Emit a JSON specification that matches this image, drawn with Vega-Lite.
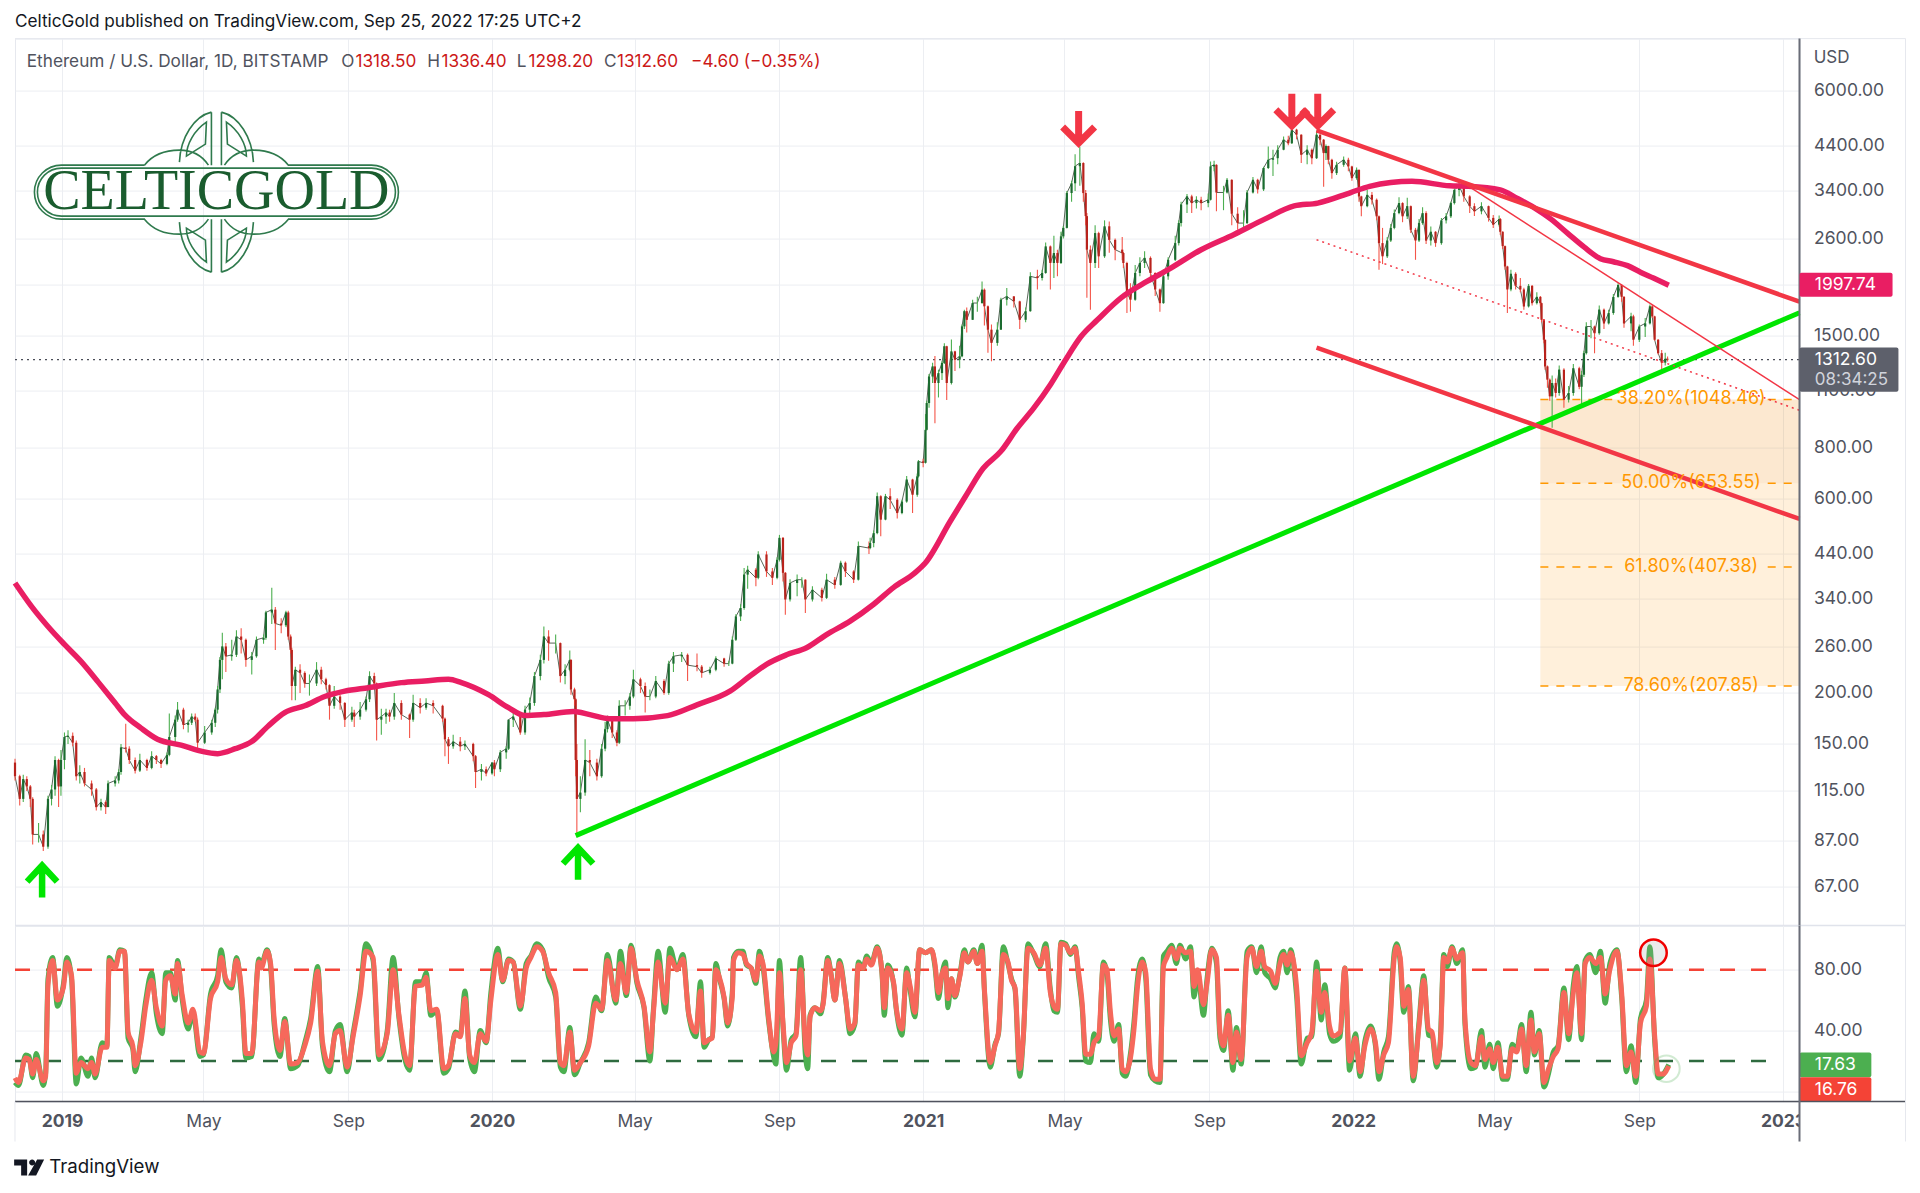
{"$schema":"https://vega.github.io/schema/vega-lite/v6.json","padding":{"left":3,"top":12.6,"right":0,"bottom":0},"background":"white","bounds":"flush","spacing":0,"config":{"view":{"stroke":"#e6e8ee"},"text":{"font":"Inter"}},
"datasets":{
"candles":[
{"d":"2018-11-22","o":135,"h":138,"l":122,"c":125},{"d":"2018-11-26","o":125,"h":126,"l":106,"c":110},{"d":"2018-11-29","o":110,"h":126,"l":108,"c":123},{"d":"2018-12-02","o":123,"h":125,"l":115,"c":118},{"d":"2018-12-05","o":118,"h":119,"l":105,"c":110},{"d":"2018-12-07","o":110,"h":111,"l":85,"c":90},{"d":"2018-12-12","o":90,"h":96,"l":86,"c":90},{"d":"2018-12-16","o":90,"h":92,"l":82,"c":84},{"d":"2018-12-20","o":84,"h":112,"l":83,"c":110},{"d":"2018-12-23","o":110,"h":119,"l":106,"c":116},{"d":"2018-12-26","o":116,"h":140,"l":112,"c":137},{"d":"2018-12-29","o":137,"h":138,"l":105,"c":118},{"d":"2018-12-31","o":118,"h":145,"l":112,"c":137},
{"d":"2019-01-03","o":137,"h":160,"l":130,"c":156},{"d":"2019-01-06","o":156,"h":162,"l":150,"c":157},{"d":"2019-01-10","o":157,"h":160,"l":148,"c":151},{"d":"2019-01-13","o":151,"h":153,"l":122,"c":125},{"d":"2019-01-16","o":125,"h":133,"l":120,"c":128},{"d":"2019-01-20","o":128,"h":131,"l":118,"c":120},{"d":"2019-01-26","o":120,"h":122,"l":112,"c":116},{"d":"2019-01-30","o":116,"h":117,"l":103,"c":105},{"d":"2019-02-03","o":105,"h":110,"l":103,"c":108},{"d":"2019-02-07","o":108,"h":109,"l":101,"c":105},{"d":"2019-02-09","o":105,"h":122,"l":105,"c":120},{"d":"2019-02-15","o":120,"h":125,"l":118,"c":122},{"d":"2019-02-18","o":122,"h":130,"l":120,"c":128},{"d":"2019-02-20","o":128,"h":150,"l":126,"c":147},{"d":"2019-02-24","o":147,"h":168,"l":143,"c":146},{"d":"2019-02-27","o":146,"h":148,"l":134,"c":137},{"d":"2019-03-04","o":137,"h":139,"l":127,"c":129},{"d":"2019-03-08","o":129,"h":142,"l":128,"c":137},{"d":"2019-03-14","o":137,"h":138,"l":129,"c":131},{"d":"2019-03-18","o":131,"h":144,"l":130,"c":140},{"d":"2019-03-22","o":140,"h":141,"l":134,"c":137},{"d":"2019-03-26","o":137,"h":138,"l":131,"c":134},{"d":"2019-03-31","o":134,"h":143,"l":133,"c":141},{"d":"2019-04-02","o":141,"h":178,"l":140,"c":156},{"d":"2019-04-07","o":156,"h":176,"l":150,"c":172},{"d":"2019-04-09","o":172,"h":190,"l":170,"c":182},{"d":"2019-04-14","o":182,"h":184,"l":163,"c":167},{"d":"2019-04-18","o":167,"h":172,"l":160,"c":169},{"d":"2019-04-21","o":169,"h":178,"l":167,"c":175},{"d":"2019-04-24","o":175,"h":178,"l":170,"c":172},{"d":"2019-04-26","o":172,"h":174,"l":146,"c":151},{"d":"2019-05-02","o":151,"h":166,"l":150,"c":160},{"d":"2019-05-08","o":160,"h":172,"l":158,"c":169},{"d":"2019-05-11","o":169,"h":184,"l":165,"c":182},{"d":"2019-05-13","o":182,"h":208,"l":178,"c":204},{"d":"2019-05-15","o":204,"h":245,"l":200,"c":241},{"d":"2019-05-17","o":241,"h":281,"l":216,"c":260},{"d":"2019-05-20","o":260,"h":265,"l":225,"c":246},{"d":"2019-05-25","o":246,"h":270,"l":240,"c":248},{"d":"2019-05-29","o":248,"h":285,"l":245,"c":275},{"d":"2019-06-02","o":275,"h":288,"l":250,"c":270},{"d":"2019-06-06","o":270,"h":272,"l":232,"c":241},{"d":"2019-06-11","o":241,"h":252,"l":222,"c":246},{"d":"2019-06-15","o":246,"h":275,"l":244,"c":270},{"d":"2019-06-21","o":270,"h":278,"l":264,"c":273},{"d":"2019-06-23","o":273,"h":318,"l":270,"c":315},{"d":"2019-06-28","o":315,"h":362,"l":295,"c":320},{"d":"2019-07-01","o":320,"h":325,"l":255,"c":296},{"d":"2019-07-06","o":296,"h":305,"l":280,"c":293},{"d":"2019-07-10","o":293,"h":318,"l":290,"c":315},{"d":"2019-07-12","o":315,"h":318,"l":270,"c":275},{"d":"2019-07-14","o":275,"h":278,"l":250,"c":255},{"d":"2019-07-15","o":255,"h":258,"l":192,"c":208},{"d":"2019-07-18","o":208,"h":232,"l":192,"c":228},{"d":"2019-07-22","o":228,"h":235,"l":200,"c":224},{"d":"2019-07-26","o":224,"h":226,"l":206,"c":211},{"d":"2019-07-30","o":211,"h":222,"l":197,"c":211},{"d":"2019-08-05","o":211,"h":238,"l":208,"c":228},{"d":"2019-08-09","o":228,"h":232,"l":210,"c":216},{"d":"2019-08-13","o":216,"h":218,"l":204,"c":209},{"d":"2019-08-16","o":209,"h":210,"l":172,"c":186},{"d":"2019-08-20","o":186,"h":208,"l":183,"c":196},{"d":"2019-08-25","o":196,"h":198,"l":182,"c":189},{"d":"2019-08-29","o":189,"h":190,"l":165,"c":172},{"d":"2019-09-04","o":172,"h":185,"l":170,"c":179},{"d":"2019-09-06","o":179,"h":182,"l":165,"c":175},{"d":"2019-09-11","o":175,"h":190,"l":172,"c":182},{"d":"2019-09-16","o":182,"h":196,"l":180,"c":193},{"d":"2019-09-19","o":193,"h":226,"l":190,"c":220},{"d":"2019-09-23","o":220,"h":224,"l":205,"c":211},{"d":"2019-09-25","o":211,"h":212,"l":153,"c":172},{"d":"2019-09-29","o":172,"h":183,"l":158,"c":175},{"d":"2019-10-03","o":175,"h":183,"l":168,"c":179},{"d":"2019-10-06","o":179,"h":182,"l":170,"c":175},{"d":"2019-10-10","o":175,"h":200,"l":172,"c":189},{"d":"2019-10-16","o":189,"h":192,"l":172,"c":177},{"d":"2019-10-23","o":177,"h":178,"l":155,"c":172},{"d":"2019-10-26","o":172,"h":198,"l":170,"c":189},{"d":"2019-11-01","o":189,"h":194,"l":178,"c":184},{"d":"2019-11-06","o":184,"h":194,"l":182,"c":189},{"d":"2019-11-12","o":189,"h":192,"l":178,"c":186},{"d":"2019-11-20","o":186,"h":187,"l":170,"c":173},{"d":"2019-11-22","o":173,"h":174,"l":140,"c":154},{"d":"2019-11-25","o":154,"h":156,"l":134,"c":148},{"d":"2019-11-29","o":148,"h":158,"l":146,"c":152},{"d":"2019-12-05","o":152,"h":156,"l":144,"c":148},{"d":"2019-12-09","o":148,"h":153,"l":145,"c":150},{"d":"2019-12-16","o":150,"h":151,"l":136,"c":140},{"d":"2019-12-18","o":140,"h":141,"l":117,"c":128},{"d":"2019-12-23","o":128,"h":134,"l":122,"c":130},{"d":"2019-12-27","o":130,"h":132,"l":125,"c":127},
{"d":"2020-01-01","o":127,"h":135,"l":126,"c":135},{"d":"2020-01-03","o":135,"h":137,"l":125,"c":130},{"d":"2020-01-08","o":130,"h":145,"l":128,"c":143},{"d":"2020-01-13","o":143,"h":148,"l":138,"c":146},{"d":"2020-01-15","o":146,"h":172,"l":145,"c":172},{"d":"2020-01-19","o":172,"h":180,"l":165,"c":175},{"d":"2020-01-25","o":175,"h":176,"l":158,"c":160},{"d":"2020-01-29","o":160,"h":186,"l":158,"c":182},{"d":"2020-02-02","o":182,"h":195,"l":178,"c":189},{"d":"2020-02-06","o":189,"h":225,"l":186,"c":220},{"d":"2020-02-11","o":220,"h":248,"l":215,"c":241},{"d":"2020-02-14","o":241,"h":291,"l":236,"c":275},{"d":"2020-02-18","o":275,"h":285,"l":240,"c":265},{"d":"2020-02-24","o":265,"h":278,"l":250,"c":265},{"d":"2020-02-28","o":265,"h":266,"l":212,"c":220},{"d":"2020-03-03","o":220,"h":235,"l":210,"c":228},{"d":"2020-03-07","o":228,"h":254,"l":226,"c":241},{"d":"2020-03-08","o":241,"h":242,"l":198,"c":204},{"d":"2020-03-11","o":204,"h":206,"l":186,"c":193},{"d":"2020-03-12","o":193,"h":194,"l":125,"c":137},{"d":"2020-03-13","o":137,"h":150,"l":90,"c":110},{"d":"2020-03-16","o":110,"h":125,"l":102,"c":114},{"d":"2020-03-20","o":114,"h":154,"l":112,"c":137},{"d":"2020-03-24","o":137,"h":145,"l":125,"c":135},{"d":"2020-03-30","o":135,"h":138,"l":122,"c":125},{"d":"2020-04-03","o":125,"h":150,"l":124,"c":146},{"d":"2020-04-06","o":146,"h":170,"l":144,"c":163},{"d":"2020-04-08","o":163,"h":176,"l":160,"c":172},{"d":"2020-04-12","o":172,"h":175,"l":155,"c":160},{"d":"2020-04-16","o":160,"h":162,"l":148,"c":151},{"d":"2020-04-18","o":151,"h":192,"l":150,"c":186},{"d":"2020-04-23","o":186,"h":192,"l":176,"c":186},{"d":"2020-04-27","o":186,"h":200,"l":182,"c":196},{"d":"2020-04-30","o":196,"h":228,"l":194,"c":216},{"d":"2020-05-06","o":216,"h":218,"l":200,"c":208},{"d":"2020-05-10","o":208,"h":212,"l":179,"c":196},{"d":"2020-05-14","o":196,"h":204,"l":192,"c":196},{"d":"2020-05-19","o":196,"h":220,"l":194,"c":214},{"d":"2020-05-26","o":214,"h":216,"l":198,"c":200},{"d":"2020-05-30","o":200,"h":240,"l":198,"c":236},{"d":"2020-06-03","o":236,"h":252,"l":225,"c":246},{"d":"2020-06-10","o":246,"h":252,"l":238,"c":248},{"d":"2020-06-15","o":248,"h":250,"l":214,"c":234},{"d":"2020-06-23","o":234,"h":250,"l":226,"c":232},{"d":"2020-06-27","o":232,"h":234,"l":218,"c":224},{"d":"2020-07-04","o":224,"h":232,"l":222,"c":228},{"d":"2020-07-09","o":228,"h":246,"l":226,"c":243},{"d":"2020-07-16","o":243,"h":244,"l":232,"c":236},{"d":"2020-07-20","o":236,"h":240,"l":233,"c":236},{"d":"2020-07-23","o":236,"h":275,"l":235,"c":270},{"d":"2020-07-26","o":270,"h":312,"l":268,"c":308},{"d":"2020-07-30","o":308,"h":330,"l":300,"c":323},{"d":"2020-08-02","o":323,"h":405,"l":320,"c":390},{"d":"2020-08-05","o":390,"h":410,"l":360,"c":401},{"d":"2020-08-12","o":401,"h":405,"l":365,"c":383},{"d":"2020-08-14","o":383,"h":445,"l":380,"c":437},{"d":"2020-08-21","o":437,"h":445,"l":385,"c":397},{"d":"2020-08-26","o":397,"h":405,"l":368,"c":383},{"d":"2020-08-30","o":383,"h":430,"l":380,"c":424},{"d":"2020-09-01","o":424,"h":488,"l":420,"c":480},{"d":"2020-09-04","o":480,"h":482,"l":375,"c":394},{"d":"2020-09-06","o":394,"h":396,"l":311,"c":339},{"d":"2020-09-10","o":339,"h":380,"l":335,"c":372},{"d":"2020-09-16","o":372,"h":390,"l":345,"c":379},{"d":"2020-09-20","o":379,"h":384,"l":362,"c":379},{"d":"2020-09-23","o":379,"h":380,"l":314,"c":339},{"d":"2020-09-29","o":339,"h":365,"l":335,"c":358},{"d":"2020-10-07","o":358,"h":362,"l":335,"c":342},{"d":"2020-10-11","o":342,"h":392,"l":340,"c":379},{"d":"2020-10-18","o":379,"h":385,"l":360,"c":368},{"d":"2020-10-23","o":368,"h":422,"l":366,"c":417},{"d":"2020-10-27","o":417,"h":420,"l":385,"c":397},{"d":"2020-11-03","o":397,"h":400,"l":372,"c":379},{"d":"2020-11-07","o":379,"h":470,"l":377,"c":458},{"d":"2020-11-16","o":458,"h":470,"l":438,"c":453},{"d":"2020-11-17","o":453,"h":480,"l":450,"c":466},{"d":"2020-11-20","o":466,"h":500,"l":455,"c":493},{"d":"2020-11-23","o":493,"h":620,"l":490,"c":607},{"d":"2020-11-26","o":607,"h":610,"l":484,"c":532},{"d":"2020-11-30","o":532,"h":615,"l":530,"c":607},{"d":"2020-12-04","o":607,"h":635,"l":565,"c":595},{"d":"2020-12-10","o":595,"h":600,"l":535,"c":552},{"d":"2020-12-14","o":552,"h":595,"l":548,"c":589},{"d":"2020-12-18","o":589,"h":680,"l":585,"c":667},{"d":"2020-12-23","o":667,"h":670,"l":552,"c":612},{"d":"2020-12-27","o":612,"h":690,"l":605,"c":679},{"d":"2020-12-28","o":679,"h":745,"l":675,"c":739},
{"d":"2021-01-01","o":739,"h":750,"l":715,"c":733},{"d":"2021-01-03","o":733,"h":965,"l":730,"c":883},{"d":"2021-01-04","o":883,"h":1040,"l":880,"c":1027},{"d":"2021-01-06","o":1027,"h":1210,"l":1000,"c":1193},{"d":"2021-01-09","o":1193,"h":1290,"l":1150,"c":1263},{"d":"2021-01-11","o":1263,"h":1340,"l":917,"c":1150},{"d":"2021-01-14","o":1150,"h":1240,"l":1060,"c":1216},{"d":"2021-01-17","o":1216,"h":1300,"l":1170,"c":1288},{"d":"2021-01-19","o":1288,"h":1440,"l":1280,"c":1415},{"d":"2021-01-21","o":1415,"h":1420,"l":1045,"c":1150},{"d":"2021-01-25","o":1150,"h":1470,"l":1140,"c":1375},{"d":"2021-01-28","o":1375,"h":1380,"l":1230,"c":1312},{"d":"2021-02-01","o":1312,"h":1420,"l":1250,"c":1337},{"d":"2021-02-03","o":1337,"h":1600,"l":1330,"c":1583},{"d":"2021-02-05","o":1583,"h":1740,"l":1560,"c":1725},{"d":"2021-02-07","o":1725,"h":1760,"l":1530,"c":1643},{"d":"2021-02-12","o":1643,"h":1840,"l":1640,"c":1806},{"d":"2021-02-16","o":1806,"h":1870,"l":1720,"c":1806},{"d":"2021-02-20","o":1806,"h":2040,"l":1800,"c":1947},{"d":"2021-02-22","o":1947,"h":1960,"l":1590,"c":1773},{"d":"2021-02-25","o":1773,"h":1780,"l":1365,"c":1554},{"d":"2021-02-28","o":1554,"h":1600,"l":1300,"c":1442},{"d":"2021-03-05","o":1442,"h":1620,"l":1420,"c":1554},{"d":"2021-03-08","o":1554,"h":1860,"l":1550,"c":1840},{"d":"2021-03-13","o":1840,"h":1965,"l":1780,"c":1875},{"d":"2021-03-19","o":1875,"h":1880,"l":1760,"c":1823},{"d":"2021-03-24","o":1823,"h":1830,"l":1560,"c":1643},{"d":"2021-03-29","o":1643,"h":1760,"l":1620,"c":1725},{"d":"2021-04-02","o":1725,"h":2150,"l":1720,"c":2100},{"d":"2021-04-08","o":2100,"h":2180,"l":1950,"c":2080},{"d":"2021-04-12","o":2080,"h":2180,"l":2050,"c":2140},{"d":"2021-04-15","o":2140,"h":2540,"l":2130,"c":2486},{"d":"2021-04-19","o":2486,"h":2500,"l":1950,"c":2264},{"d":"2021-04-22","o":2264,"h":2640,"l":2080,"c":2395},{"d":"2021-04-25","o":2395,"h":2440,"l":2100,"c":2264},{"d":"2021-04-28","o":2264,"h":2700,"l":2250,"c":2631},{"d":"2021-04-30","o":2631,"h":2790,"l":2600,"c":2760},{"d":"2021-05-03","o":2760,"h":3400,"l":2750,"c":3360},{"d":"2021-05-07","o":3360,"h":3600,"l":3200,"c":3550},{"d":"2021-05-10","o":3550,"h":4180,"l":3400,"c":3910},{"d":"2021-05-14","o":3910,"h":4362,"l":3500,"c":3980},{"d":"2021-05-17","o":3980,"h":4000,"l":3200,"c":3360},{"d":"2021-05-19","o":3360,"h":3420,"l":2800,"c":2950},{"d":"2021-05-20","o":2950,"h":3000,"l":1860,"c":2441},{"d":"2021-05-23","o":2441,"h":2500,"l":1740,"c":2264},{"d":"2021-05-27","o":2264,"h":2800,"l":2200,"c":2680},{"d":"2021-05-30","o":2680,"h":2700,"l":2200,"c":2351},{"d":"2021-06-04","o":2351,"h":2880,"l":2330,"c":2785},{"d":"2021-06-08","o":2785,"h":2860,"l":2400,"c":2580},{"d":"2021-06-13","o":2580,"h":2600,"l":2300,"c":2441},{"d":"2021-06-19","o":2441,"h":2620,"l":2300,"c":2395},{"d":"2021-06-20","o":2395,"h":2410,"l":2200,"c":2264},{"d":"2021-06-23","o":2264,"h":2280,"l":1707,"c":1910},{"d":"2021-06-26","o":1910,"h":2020,"l":1720,"c":1840},{"d":"2021-06-30","o":1840,"h":2240,"l":1830,"c":2140},{"d":"2021-07-04","o":2140,"h":2340,"l":2100,"c":2264},{"d":"2021-07-08","o":2264,"h":2420,"l":2200,"c":2330},{"d":"2021-07-13","o":2330,"h":2350,"l":2050,"c":2140},{"d":"2021-07-17","o":2140,"h":2150,"l":1880,"c":1950},{"d":"2021-07-21","o":1950,"h":1960,"l":1720,"c":1805},{"d":"2021-07-24","o":1805,"h":2140,"l":1800,"c":2100},{"d":"2021-07-28","o":2100,"h":2340,"l":2060,"c":2305},{"d":"2021-08-03","o":2305,"h":2640,"l":2290,"c":2533},{"d":"2021-08-06","o":2533,"h":2880,"l":2500,"c":2836},{"d":"2021-08-08","o":2836,"h":3200,"l":2780,"c":3150},{"d":"2021-08-13","o":3150,"h":3340,"l":3000,"c":3297},{"d":"2021-08-17","o":3297,"h":3330,"l":3000,"c":3175},{"d":"2021-08-21","o":3175,"h":3300,"l":3080,"c":3235},{"d":"2021-08-25","o":3235,"h":3290,"l":3050,"c":3175},{"d":"2021-08-31","o":3175,"h":3350,"l":3100,"c":3235},{"d":"2021-09-02","o":3235,"h":4015,"l":3220,"c":3904},{"d":"2021-09-05","o":3904,"h":4030,"l":3800,"c":3940},{"d":"2021-09-07","o":3940,"h":3950,"l":3030,"c":3370},{"d":"2021-09-13","o":3370,"h":3500,"l":3050,"c":3370},{"d":"2021-09-16","o":3370,"h":3660,"l":3350,"c":3620},{"d":"2021-09-20","o":3620,"h":3630,"l":2800,"c":2990},{"d":"2021-09-25","o":2990,"h":3100,"l":2730,"c":2836},{"d":"2021-09-30","o":2836,"h":3050,"l":2760,"c":2836},{"d":"2021-10-03","o":2836,"h":3420,"l":2820,"c":3370},{"d":"2021-10-08","o":3370,"h":3680,"l":3350,"c":3620},{"d":"2021-10-12","o":3620,"h":3640,"l":3350,"c":3430},{"d":"2021-10-17","o":3430,"h":3900,"l":3400,"c":3870},{"d":"2021-10-21","o":3870,"h":4370,"l":3850,"c":4054},{"d":"2021-10-25","o":4054,"h":4290,"l":3700,"c":4090},{"d":"2021-10-29","o":4090,"h":4400,"l":3950,"c":4290},{"d":"2021-11-03","o":4290,"h":4620,"l":4280,"c":4540},{"d":"2021-11-07","o":4540,"h":4640,"l":4400,"c":4450},{"d":"2021-11-10","o":4450,"h":4860,"l":4430,"c":4806},{"d":"2021-11-14","o":4806,"h":4830,"l":4550,"c":4670},{"d":"2021-11-18","o":4670,"h":4680,"l":3980,"c":4170},{"d":"2021-11-23","o":4170,"h":4400,"l":3950,"c":4290},{"d":"2021-11-27","o":4290,"h":4320,"l":3950,"c":4090},{"d":"2021-12-01","o":4090,"h":4780,"l":4070,"c":4670},{"d":"2021-12-04","o":4670,"h":4680,"l":4400,"c":4540},{"d":"2021-12-07","o":4540,"h":4560,"l":3480,"c":4210},{"d":"2021-12-09","o":4210,"h":4420,"l":4050,"c":4380},{"d":"2021-12-11","o":4380,"h":4390,"l":3950,"c":4054},{"d":"2021-12-14","o":4054,"h":4080,"l":3640,"c":3760},{"d":"2021-12-18","o":3760,"h":4010,"l":3720,"c":3940},{"d":"2021-12-24","o":3940,"h":4130,"l":3900,"c":4054},{"d":"2021-12-28","o":4054,"h":4100,"l":3800,"c":3904},{"d":"2021-12-31","o":3904,"h":3920,"l":3600,"c":3655},
{"d":"2022-01-04","o":3655,"h":3880,"l":3620,"c":3830},{"d":"2022-01-06","o":3830,"h":3840,"l":3200,"c":3297},{"d":"2022-01-08","o":3297,"h":3310,"l":2946,"c":3120},{"d":"2022-01-13","o":3120,"h":3430,"l":3100,"c":3325},{"d":"2022-01-17","o":3325,"h":3380,"l":3150,"c":3235},{"d":"2022-01-21","o":3235,"h":3260,"l":2880,"c":2946},{"d":"2022-01-23","o":2946,"h":2960,"l":2180,"c":2533},{"d":"2022-01-26","o":2533,"h":2760,"l":2250,"c":2351},{"d":"2022-01-30","o":2351,"h":2620,"l":2330,"c":2570},{"d":"2022-02-02","o":2570,"h":2820,"l":2550,"c":2760},{"d":"2022-02-05","o":2760,"h":3060,"l":2740,"c":3000},{"d":"2022-02-09","o":3000,"h":3280,"l":2980,"c":3175},{"d":"2022-02-12","o":3175,"h":3190,"l":2850,"c":2946},{"d":"2022-02-16","o":2946,"h":3270,"l":2900,"c":3120},{"d":"2022-02-19","o":3120,"h":3130,"l":2680,"c":2731},{"d":"2022-02-23","o":2731,"h":2760,"l":2305,"c":2570},{"d":"2022-02-26","o":2570,"h":2900,"l":2550,"c":2836},{"d":"2022-03-01","o":2836,"h":3100,"l":2810,"c":3000},{"d":"2022-03-04","o":3000,"h":3030,"l":2520,"c":2570},{"d":"2022-03-08","o":2570,"h":2780,"l":2500,"c":2700},{"d":"2022-03-12","o":2700,"h":2710,"l":2480,"c":2533},{"d":"2022-03-17","o":2533,"h":2920,"l":2510,"c":2880},{"d":"2022-03-21","o":2880,"h":3000,"l":2830,"c":2946},{"d":"2022-03-25","o":2946,"h":3200,"l":2920,"c":3175},{"d":"2022-03-28","o":3175,"h":3450,"l":3150,"c":3420},{"d":"2022-04-01","o":3420,"h":3580,"l":3300,"c":3500},{"d":"2022-04-05","o":3500,"h":3520,"l":3200,"c":3297},{"d":"2022-04-10","o":3297,"h":3320,"l":3000,"c":3120},{"d":"2022-04-14","o":3120,"h":3170,"l":2950,"c":3030},{"d":"2022-04-20","o":3030,"h":3190,"l":2980,"c":3120},{"d":"2022-04-26","o":3120,"h":3130,"l":2860,"c":2920},{"d":"2022-04-30","o":2920,"h":2970,"l":2760,"c":2810},{"d":"2022-05-05","o":2810,"h":2960,"l":2780,"c":2900},{"d":"2022-05-06","o":2900,"h":2920,"l":2650,"c":2700},{"d":"2022-05-08","o":2700,"h":2710,"l":2450,"c":2490},{"d":"2022-05-10","o":2490,"h":2500,"l":2180,"c":2220},{"d":"2022-05-12","o":2220,"h":2230,"l":1707,"c":1950},{"d":"2022-05-15","o":1950,"h":2180,"l":1930,"c":2130},{"d":"2022-05-19","o":2130,"h":2150,"l":1950,"c":1990},{"d":"2022-05-23","o":1990,"h":2080,"l":1920,"c":1950},{"d":"2022-05-26","o":1950,"h":1970,"l":1740,"c":1772},{"d":"2022-05-30","o":1772,"h":2010,"l":1760,"c":1990},{"d":"2022-06-02","o":1990,"h":2000,"l":1780,"c":1805},{"d":"2022-06-06","o":1805,"h":1920,"l":1790,"c":1870},{"d":"2022-06-09","o":1870,"h":1880,"l":1770,"c":1805},{"d":"2022-06-10","o":1805,"h":1810,"l":1620,"c":1643},{"d":"2022-06-12","o":1643,"h":1650,"l":1440,"c":1468},{"d":"2022-06-13","o":1468,"h":1470,"l":1240,"c":1263},{"d":"2022-06-15","o":1263,"h":1270,"l":1120,"c":1172},{"d":"2022-06-17","o":1172,"h":1180,"l":1040,"c":1067},{"d":"2022-06-19","o":1067,"h":1200,"l":893,"c":1150},{"d":"2022-06-22","o":1150,"h":1180,"l":1060,"c":1087},{"d":"2022-06-25","o":1087,"h":1270,"l":1070,"c":1240},{"d":"2022-06-29","o":1240,"h":1250,"l":1000,"c":1047},{"d":"2022-07-03","o":1047,"h":1130,"l":1030,"c":1087},{"d":"2022-07-07","o":1087,"h":1280,"l":1070,"c":1250},{"d":"2022-07-12","o":1250,"h":1260,"l":1110,"c":1126},{"d":"2022-07-14","o":1126,"h":1230,"l":1020,"c":1205},{"d":"2022-07-16","o":1205,"h":1380,"l":1190,"c":1361},{"d":"2022-07-18","o":1361,"h":1620,"l":1350,"c":1582},{"d":"2022-07-22","o":1582,"h":1640,"l":1480,"c":1582},{"d":"2022-07-25","o":1582,"h":1590,"l":1360,"c":1523},{"d":"2022-07-29","o":1523,"h":1780,"l":1510,"c":1740},{"d":"2022-08-02","o":1740,"h":1750,"l":1560,"c":1610},{"d":"2022-08-06","o":1610,"h":1740,"l":1600,"c":1707},{"d":"2022-08-10","o":1707,"h":1900,"l":1690,"c":1870},{"d":"2022-08-14","o":1870,"h":2020,"l":1860,"c":2000},{"d":"2022-08-17","o":2000,"h":2010,"l":1820,"c":1870},{"d":"2022-08-19","o":1870,"h":1880,"l":1570,"c":1610},{"d":"2022-08-25","o":1610,"h":1710,"l":1540,"c":1675},{"d":"2022-08-27","o":1675,"h":1690,"l":1420,"c":1468},{"d":"2022-09-01","o":1468,"h":1600,"l":1450,"c":1582},{"d":"2022-09-06","o":1582,"h":1660,"l":1490,"c":1610},{"d":"2022-09-10","o":1610,"h":1790,"l":1600,"c":1772},{"d":"2022-09-12","o":1772,"h":1785,"l":1660,"c":1675},{"d":"2022-09-14","o":1675,"h":1680,"l":1460,"c":1468},{"d":"2022-09-17","o":1468,"h":1475,"l":1350,"c":1361},{"d":"2022-09-20","o":1361,"h":1385,"l":1230,"c":1290},{"d":"2022-09-23","o":1290,"h":1365,"l":1270,"c":1318},{"d":"2022-09-25","o":1318.5,"h":1336.4,"l":1298.2,"c":1312.6}],
"ma":[{"d":"2018-11-22","p":372},{"d":"2018-12-06","p":326},{"d":"2018-12-20","p":291},{"d":"2019-01-03","p":263},{"d":"2019-01-17","p":239},{"d":"2019-02-01","p":212},{"d":"2019-02-15","p":189},{"d":"2019-02-23","p":177},{"d":"2019-03-09","p":164},{"d":"2019-03-23","p":154},{"d":"2019-04-12","p":149},{"d":"2019-04-29","p":144},{"d":"2019-05-13","p":142},{"d":"2019-05-28","p":146},{"d":"2019-06-11","p":152},{"d":"2019-06-25","p":166},{"d":"2019-07-09","p":179},{"d":"2019-07-26","p":186},{"d":"2019-08-12","p":196},{"d":"2019-08-29","p":202},{"d":"2019-09-18","p":206},{"d":"2019-10-16","p":212},{"d":"2019-11-05","p":214},{"d":"2019-11-25","p":216},{"d":"2019-12-06","p":212},{"d":"2019-12-29","p":198},{"d":"2020-01-15","p":184},{"d":"2020-01-29","p":176},{"d":"2020-02-14","p":177},{"d":"2020-03-10","p":180},{"d":"2020-03-24","p":177},{"d":"2020-04-10","p":173},{"d":"2020-04-30","p":173},{"d":"2020-05-29","p":176},{"d":"2020-06-23","p":187},{"d":"2020-07-21","p":202},{"d":"2020-08-07","p":220},{"d":"2020-08-21","p":235},{"d":"2020-09-07","p":248},{"d":"2020-09-24","p":258},{"d":"2020-10-11","p":278},{"d":"2020-10-31","p":300},{"d":"2020-11-20","p":330},{"d":"2020-12-07","p":363},{"d":"2020-12-25","p":394},{"d":"2021-01-03","p":417},{"d":"2021-01-24","p":527},{"d":"2021-02-06","p":607},{"d":"2021-02-21","p":711},{"d":"2021-03-08","p":782},{"d":"2021-03-22","p":892},{"d":"2021-04-05","p":999},{"d":"2021-04-19","p":1139},{"d":"2021-05-02","p":1312},{"d":"2021-05-15","p":1495},{"d":"2021-05-29","p":1643},{"d":"2021-06-18","p":1860},{"d":"2021-07-10","p":2040},{"d":"2021-07-28","p":2180},{"d":"2021-08-25","p":2440},{"d":"2021-09-22","p":2660},{"d":"2021-10-18","p":2900},{"d":"2021-11-12","p":3125},{"d":"2021-12-02","p":3175},{"d":"2021-12-30","p":3370},{"d":"2022-01-15","p":3490},{"d":"2022-02-20","p":3590},{"d":"2022-03-24","p":3500},{"d":"2022-04-08","p":3490},{"d":"2022-05-06","p":3420},{"d":"2022-05-20","p":3265},{"d":"2022-06-04","p":3090},{"d":"2022-06-18","p":2900},{"d":"2022-07-02","p":2680},{"d":"2022-07-16","p":2480},{"d":"2022-07-30","p":2320},{"d":"2022-08-10","p":2280},{"d":"2022-08-22","p":2230},{"d":"2022-09-02","p":2150},{"d":"2022-09-13","p":2080},{"d":"2022-09-26","p":1997.74}],
"stoch":[
{"d":"2018-11-22","k":6,"v":9},{"d":"2018-11-25","k":4,"v":6},{"d":"2018-12-01","k":24,"v":22},{"d":"2018-12-04","k":23,"v":21},{"d":"2018-12-07","k":9,"v":11.5},{"d":"2018-12-10","k":25,"v":21},{"d":"2018-12-16","k":4,"v":7},{"d":"2018-12-18","k":12,"v":10},{"d":"2018-12-20","k":74,"v":70},{"d":"2018-12-24","k":88,"v":86},{"d":"2018-12-28","k":56,"v":60},{"d":"2019-01-02","k":70,"v":68},{"d":"2019-01-05","k":88,"v":85},{"d":"2019-01-09","k":74,"v":76},{"d":"2019-01-13","k":5,"v":12},{"d":"2019-01-17","k":22,"v":19},{"d":"2019-01-23","k":10,"v":15},{"d":"2019-01-26","k":22,"v":19},{"d":"2019-01-29","k":9,"v":11.5},{"d":"2019-02-04","k":32,"v":29},{"d":"2019-02-08","k":30,"v":29},{"d":"2019-02-10","k":88,"v":86},{"d":"2019-02-15","k":82,"v":81},{"d":"2019-02-19","k":93,"v":92},{"d":"2019-02-23","k":92,"v":92},{"d":"2019-02-26","k":35,"v":39},{"d":"2019-03-02","k":28,"v":30},{"d":"2019-03-04","k":13,"v":17},{"d":"2019-03-09","k":36,"v":33},{"d":"2019-03-13","k":60,"v":56},{"d":"2019-03-18","k":78,"v":73},{"d":"2019-03-22","k":51,"v":55},{"d":"2019-03-27","k":38,"v":43},{"d":"2019-03-30","k":78,"v":73},{"d":"2019-04-03","k":78,"v":76},{"d":"2019-04-07","k":60,"v":64},{"d":"2019-04-09","k":86,"v":84},{"d":"2019-04-13","k":60,"v":63},{"d":"2019-04-18","k":41,"v":45},{"d":"2019-04-22","k":52,"v":54},{"d":"2019-04-28","k":23,"v":26},{"d":"2019-05-01","k":24,"v":25},{"d":"2019-05-07","k":64,"v":61},{"d":"2019-05-13","k":76,"v":72},{"d":"2019-05-16","k":93,"v":88},{"d":"2019-05-20","k":72,"v":74},{"d":"2019-05-25","k":68,"v":70},{"d":"2019-05-29","k":88,"v":86},{"d":"2019-06-03","k":56,"v":60},{"d":"2019-06-06","k":22,"v":25},{"d":"2019-06-11","k":23,"v":25},{"d":"2019-06-17","k":87,"v":85},{"d":"2019-06-19","k":83,"v":81},{"d":"2019-06-24","k":93,"v":92},{"d":"2019-06-27","k":82,"v":84},{"d":"2019-06-30","k":44,"v":48},{"d":"2019-07-05","k":23,"v":27},{"d":"2019-07-09","k":48,"v":46},{"d":"2019-07-14","k":15,"v":18},{"d":"2019-07-20","k":17,"v":19},{"d":"2019-07-26","k":32,"v":30},{"d":"2019-07-31","k":48,"v":45},{"d":"2019-08-06","k":82,"v":79},{"d":"2019-08-10","k":30,"v":33},{"d":"2019-08-16","k":13,"v":17},{"d":"2019-08-21","k":40,"v":38},{"d":"2019-08-25","k":44,"v":40},{"d":"2019-08-31","k":13,"v":16},{"d":"2019-09-05","k":38,"v":36},{"d":"2019-09-11","k":66,"v":63},{"d":"2019-09-16","k":97,"v":92},{"d":"2019-09-22","k":86,"v":88},{"d":"2019-09-27","k":21,"v":24},{"d":"2019-10-04","k":40,"v":38},{"d":"2019-10-09","k":88,"v":80},{"d":"2019-10-14","k":48,"v":50},{"d":"2019-10-19","k":21,"v":24},{"d":"2019-10-23","k":14,"v":17},{"d":"2019-10-28","k":72,"v":69},{"d":"2019-11-03","k":72,"v":70},{"d":"2019-11-06","k":78,"v":75},{"d":"2019-11-10","k":50,"v":53},{"d":"2019-11-15","k":53,"v":54},{"d":"2019-11-21","k":12,"v":15},{"d":"2019-11-25","k":15,"v":17},{"d":"2019-12-01","k":39,"v":38},{"d":"2019-12-05","k":37,"v":36},{"d":"2019-12-09","k":66,"v":61},{"d":"2019-12-13","k":22,"v":24},{"d":"2019-12-17","k":13,"v":19},{"d":"2019-12-22","k":40,"v":38},{"d":"2019-12-27","k":32,"v":33},{"d":"2019-12-31","k":65,"v":60},{"d":"2020-01-06","k":94,"v":90},{"d":"2020-01-10","k":72,"v":73},{"d":"2020-01-15","k":87,"v":86},{"d":"2020-01-19","k":85,"v":85},{"d":"2020-01-25","k":54,"v":56},{"d":"2020-01-30","k":84,"v":81},{"d":"2020-02-03","k":89,"v":88},{"d":"2020-02-08","k":97,"v":95},{"d":"2020-02-13","k":93,"v":92},{"d":"2020-02-18","k":75,"v":78},{"d":"2020-02-24","k":62,"v":65},{"d":"2020-02-28","k":16,"v":19},{"d":"2020-03-02","k":13,"v":17},{"d":"2020-03-07","k":42,"v":39},{"d":"2020-03-11","k":11,"v":14},{"d":"2020-03-16","k":19,"v":19},{"d":"2020-03-23","k":32,"v":30},{"d":"2020-03-29","k":62,"v":58},{"d":"2020-04-03","k":53,"v":54},{"d":"2020-04-08","k":90,"v":86},{"d":"2020-04-15","k":58,"v":60},{"d":"2020-04-19","k":92,"v":84},{"d":"2020-04-24","k":63,"v":65},{"d":"2020-04-28","k":96,"v":94},{"d":"2020-05-03","k":71,"v":73},{"d":"2020-05-09","k":55,"v":56},{"d":"2020-05-14","k":20,"v":26},{"d":"2020-05-17","k":54,"v":52},{"d":"2020-05-21","k":92,"v":85},{"d":"2020-05-27","k":52,"v":58},{"d":"2020-05-31","k":94,"v":88},{"d":"2020-06-06","k":80,"v":80},{"d":"2020-06-11","k":90,"v":87},{"d":"2020-06-16","k":50,"v":51},{"d":"2020-06-22","k":36,"v":39},{"d":"2020-06-26","k":72,"v":66},{"d":"2020-06-29","k":29,"v":32},{"d":"2020-07-03","k":34,"v":34},{"d":"2020-07-06","k":36,"v":35},{"d":"2020-07-09","k":84,"v":80},{"d":"2020-07-12","k":74,"v":75},{"d":"2020-07-16","k":61,"v":62},{"d":"2020-07-19","k":43,"v":45},{"d":"2020-07-23","k":66,"v":62},{"d":"2020-07-24","k":88,"v":86},{"d":"2020-07-28","k":92,"v":91},{"d":"2020-08-01","k":92,"v":90},{"d":"2020-08-04","k":83,"v":84},{"d":"2020-08-08","k":81,"v":81},{"d":"2020-08-12","k":71,"v":73},{"d":"2020-08-15","k":92,"v":89},{"d":"2020-08-18","k":82,"v":84},{"d":"2020-08-23","k":45,"v":47},{"d":"2020-08-27","k":23,"v":26},{"d":"2020-08-29","k":18,"v":32},{"d":"2020-09-01","k":86,"v":78},{"d":"2020-09-04","k":43,"v":45},{"d":"2020-09-07","k":14,"v":19},{"d":"2020-09-11","k":34,"v":32},{"d":"2020-09-15","k":38,"v":36.5},{"d":"2020-09-19","k":88,"v":80},{"d":"2020-09-23","k":24,"v":32},{"d":"2020-09-25","k":15,"v":24},{"d":"2020-09-27","k":50,"v":49},{"d":"2020-10-01","k":55,"v":55},{"d":"2020-10-06","k":51,"v":53},{"d":"2020-10-08","k":58,"v":57},{"d":"2020-10-12","k":88,"v":86},{"d":"2020-10-15","k":76,"v":76},{"d":"2020-10-18","k":60,"v":60},{"d":"2020-10-22","k":86,"v":84},{"d":"2020-10-27","k":62,"v":62},{"d":"2020-10-31","k":38,"v":41},{"d":"2020-11-04","k":44,"v":45},{"d":"2020-11-07","k":85,"v":83},{"d":"2020-11-11","k":81,"v":81},{"d":"2020-11-14","k":89,"v":87},{"d":"2020-11-18","k":84,"v":83},{"d":"2020-11-23","k":95,"v":94},{"d":"2020-11-27","k":78,"v":79},{"d":"2020-11-29","k":50,"v":55},{"d":"2020-12-02","k":83,"v":81},{"d":"2020-12-07","k":70,"v":71},{"d":"2020-12-09","k":55,"v":56},{"d":"2020-12-14","k":37,"v":41},{"d":"2020-12-18","k":81,"v":78},{"d":"2020-12-21","k":66,"v":69},{"d":"2020-12-25","k":49,"v":52},{"d":"2020-12-29","k":93,"v":93},{"d":"2021-01-03","k":91,"v":91},{"d":"2021-01-08","k":93,"v":93},{"d":"2021-01-11","k":82,"v":84},{"d":"2021-01-14","k":61,"v":65},{"d":"2021-01-17","k":77,"v":77},{"d":"2021-01-20","k":85,"v":81},{"d":"2021-01-22","k":55,"v":61},{"d":"2021-01-25","k":74,"v":74},{"d":"2021-01-28","k":62,"v":63},{"d":"2021-02-01","k":76,"v":75},{"d":"2021-02-05","k":93,"v":91},{"d":"2021-02-08","k":85,"v":85},{"d":"2021-02-13","k":93,"v":92},{"d":"2021-02-16","k":84,"v":84},{"d":"2021-02-20","k":96,"v":92},{"d":"2021-02-22","k":66,"v":67},{"d":"2021-02-27","k":16,"v":19},{"d":"2021-03-03","k":31,"v":30},{"d":"2021-03-06","k":38,"v":39},{"d":"2021-03-10","k":95,"v":90},{"d":"2021-03-14","k":84,"v":85},{"d":"2021-03-17","k":74,"v":73},{"d":"2021-03-20","k":67,"v":68},{"d":"2021-03-24","k":10,"v":15},{"d":"2021-03-27","k":35,"v":36},{"d":"2021-03-31","k":97,"v":94},{"d":"2021-04-05","k":90,"v":91},{"d":"2021-04-10","k":82,"v":83},{"d":"2021-04-15","k":97,"v":94},{"d":"2021-04-19","k":67,"v":65},{"d":"2021-04-22","k":53,"v":56},{"d":"2021-04-25","k":52,"v":54},{"d":"2021-04-28","k":98,"v":97},{"d":"2021-05-02","k":97,"v":96},{"d":"2021-05-06","k":90,"v":91},
{"d":"2021-05-10","k":95,"v":94},{"d":"2021-05-13","k":75,"v":78},{"d":"2021-05-16","k":55,"v":58},{"d":"2021-05-19","k":20,"v":24.5},{"d":"2021-05-23","k":19,"v":24.5},{"d":"2021-05-26","k":38,"v":32},{"d":"2021-05-30","k":33,"v":36.5},{"d":"2021-06-03","k":85,"v":83},{"d":"2021-06-06","k":78,"v":80},{"d":"2021-06-09","k":47,"v":52},{"d":"2021-06-12","k":33,"v":36.5},{"d":"2021-06-16","k":44,"v":41},{"d":"2021-06-19","k":12,"v":15},{"d":"2021-06-22","k":10,"v":13},{"d":"2021-06-26","k":25,"v":22},{"d":"2021-06-29","k":46,"v":41},{"d":"2021-07-02","k":74,"v":69},{"d":"2021-07-06","k":87,"v":85},{"d":"2021-07-09","k":74,"v":78},{"d":"2021-07-13","k":11,"v":15},{"d":"2021-07-17","k":7,"v":8},{"d":"2021-07-21","k":6,"v":8},{"d":"2021-07-24","k":89,"v":82},{"d":"2021-07-27","k":92,"v":88},{"d":"2021-07-31","k":96,"v":94},{"d":"2021-08-04","k":84,"v":87},{"d":"2021-08-07","k":96,"v":94},{"d":"2021-08-12","k":87,"v":91},{"d":"2021-08-16","k":95,"v":92},{"d":"2021-08-19","k":62,"v":69},{"d":"2021-08-22","k":78,"v":80},{"d":"2021-08-27","k":50,"v":57},{"d":"2021-08-30","k":74,"v":71},{"d":"2021-09-03","k":94,"v":93},{"d":"2021-09-07","k":84,"v":88},{"d":"2021-09-10","k":35,"v":39},{"d":"2021-09-13","k":27,"v":30},{"d":"2021-09-17","k":53,"v":50},{"d":"2021-09-21","k":14,"v":19},{"d":"2021-09-24","k":42,"v":39},{"d":"2021-09-28","k":18,"v":21},{"d":"2021-10-03","k":92,"v":88},{"d":"2021-10-07","k":95,"v":94},{"d":"2021-10-11","k":78,"v":82},{"d":"2021-10-15","k":95,"v":92},{"d":"2021-10-18","k":78,"v":82},{"d":"2021-10-23","k":74,"v":79},{"d":"2021-10-27","k":68,"v":71},{"d":"2021-10-31","k":88,"v":84},{"d":"2021-11-03","k":92,"v":90},{"d":"2021-11-06","k":78,"v":83},{"d":"2021-11-09","k":93,"v":91},{"d":"2021-11-14","k":63,"v":69},{"d":"2021-11-18","k":18,"v":23.5},{"d":"2021-11-23","k":35,"v":32},{"d":"2021-11-27","k":36,"v":39},{"d":"2021-12-01","k":85,"v":79},{"d":"2021-12-05","k":47,"v":52},{"d":"2021-12-08","k":70,"v":65},{"d":"2021-12-12","k":38,"v":43},{"d":"2021-12-15","k":33,"v":36.5},{"d":"2021-12-21","k":36,"v":39},{"d":"2021-12-25","k":81,"v":81},{"d":"2021-12-29","k":14,"v":20},{"d":"2022-01-03","k":38,"v":35},{"d":"2022-01-07","k":10,"v":13},{"d":"2022-01-11","k":33,"v":30},{"d":"2022-01-16","k":43,"v":41},{"d":"2022-01-20","k":30,"v":32},{"d":"2022-01-23","k":8,"v":13},{"d":"2022-01-27","k":26,"v":24},{"d":"2022-01-31","k":36,"v":32},{"d":"2022-02-05","k":92,"v":88},{"d":"2022-02-07","k":97,"v":95},{"d":"2022-02-10","k":85,"v":88},{"d":"2022-02-13","k":52,"v":56},{"d":"2022-02-17","k":69,"v":67},{"d":"2022-02-21","k":7,"v":10},{"d":"2022-02-26","k":46,"v":43},{"d":"2022-03-02","k":76,"v":73},{"d":"2022-03-06","k":37,"v":41},
{"d":"2022-03-09","k":36,"v":39},{"d":"2022-03-13","k":16,"v":19},{"d":"2022-03-16","k":33,"v":30},{"d":"2022-03-19","k":90,"v":88},{"d":"2022-03-22","k":82,"v":85},{"d":"2022-03-26","k":95,"v":94},{"d":"2022-03-30","k":84,"v":87},{"d":"2022-04-04","k":93,"v":91},{"d":"2022-04-06","k":44,"v":47},{"d":"2022-04-11","k":15,"v":19},{"d":"2022-04-15","k":16,"v":17},{"d":"2022-04-20","k":40,"v":36},{"d":"2022-04-23","k":16,"v":21},{"d":"2022-04-27","k":31,"v":28},{"d":"2022-04-30","k":15,"v":19},{"d":"2022-05-04","k":32,"v":29},{"d":"2022-05-08","k":8,"v":10},{"d":"2022-05-12","k":8,"v":10},{"d":"2022-05-16","k":31,"v":28},{"d":"2022-05-20","k":28,"v":26},{"d":"2022-05-24","k":44,"v":41},{"d":"2022-05-28","k":13,"v":17},{"d":"2022-06-01","k":52,"v":47},{"d":"2022-06-04","k":24,"v":26},{"d":"2022-06-08","k":40,"v":38},{"d":"2022-06-12","k":3,"v":6},{"d":"2022-06-16","k":12,"v":15},{"d":"2022-06-20","k":26,"v":23},{"d":"2022-06-24","k":30,"v":28},{"d":"2022-06-29","k":68,"v":65},{"d":"2022-07-03","k":34,"v":38},{"d":"2022-07-07","k":70,"v":65},{"d":"2022-07-10","k":82,"v":78},{"d":"2022-07-14","k":34,"v":38},{"d":"2022-07-17","k":86,"v":84},{"d":"2022-07-21","k":90,"v":88},{"d":"2022-07-26","k":78,"v":84},{"d":"2022-07-30","k":92,"v":88},{"d":"2022-08-03","k":58,"v":64},{"d":"2022-08-07","k":84,"v":80},{"d":"2022-08-13","k":93,"v":92},{"d":"2022-08-17","k":62,"v":65},{"d":"2022-08-21","k":13,"v":17},{"d":"2022-08-25","k":30,"v":26},{"d":"2022-08-29","k":6,"v":10},{"d":"2022-09-02","k":48,"v":45},{"d":"2022-09-07","k":60,"v":56},{"d":"2022-09-10","k":95,"v":87},{"d":"2022-09-14","k":34,"v":37},{"d":"2022-09-17","k":9,"v":11.5},{"d":"2022-09-21","k":11,"v":11.5},{"d":"2022-09-26","k":17.63,"v":16.76}]
},
"vconcat":[
{"width":1784.5,"height":887,
"encoding":{"x":{"field":"d","type":"temporal","title":null,"scale":{"domain":["2018-11-22","2023-01-15"],"nice":false},"axis":{"values":["2019-01-01","2019-05-01","2019-09-01","2020-01-01","2020-05-01","2020-09-01","2021-01-01","2021-05-01","2021-09-01","2022-01-01","2022-05-01","2022-09-01","2023-01-01"],"labels":false,"ticks":false,"domain":false,"grid":true,"gridColor":"#eceef2","title":null}},
"y":{"field":"p","type":"quantitative","title":null,"scale":{"type":"log","domain":[53.8,8033],"nice":false},"axis":{"orient":"right","values":[67,87,115,150,200,260,340,440,600,800,1100,1500,2000,2600,3400,4400,6000],"labelExpr":"datum.value==2000?'':format(datum.value,'.2f')","grid":true,"gridColor":"#eceef2","domain":false,"ticks":false,"labelPadding":14,"labelFont":"Inter","labelFontSize":17.5,"labelColor":"#50535e","title":null}}},
"layer":[
{"data":{"values":[{"d":"2022-06-09","d2":"2023-01-15","p":1048.46,"p2":207.85}]},"mark":{"type":"rect","color":"#ff9800","opacity":0.14},"encoding":{"x2":{"field":"d2"},"y2":{"field":"p2"}}},
{"data":{"values":[{"d":"2022-06-09","d2":"2023-01-15","p":1048.46,"p2":653.55}]},"mark":{"type":"rect","color":"#c96a10","opacity":0.05},"encoding":{"x2":{"field":"d2"},"y2":{"field":"p2"}}},
{"data":{"values":[{"d":"2018-11-22","d2":"2023-01-15","p":1312.6}]},"mark":{"type":"rule","color":"#4a4d57","strokeDash":[2,4],"strokeWidth":1.3},"encoding":{"x2":{"field":"d2"}}},
{"data":{"values":[{"d":"2022-06-09","d2":"2022-08-09","p":1048.46},{"d":"2022-12-19","d2":"2023-01-15","p":1048.46},{"d":"2022-06-09","d2":"2022-08-09","p":653.55},{"d":"2022-12-19","d2":"2023-01-15","p":653.55},{"d":"2022-06-09","d2":"2022-08-09","p":407.38},{"d":"2022-12-19","d2":"2023-01-15","p":407.38},{"d":"2022-06-09","d2":"2022-08-09","p":207.85},{"d":"2022-12-19","d2":"2023-01-15","p":207.85}]},"mark":{"type":"rule","color":"#ff9800","strokeDash":[8,8],"strokeWidth":1.5},"encoding":{"x2":{"field":"d2"}}},
{"data":{"name":"candles"},"mark":{"type":"line","color":"#3a4a3a","strokeWidth":1,"opacity":0.85},"encoding":{"y":{"field":"c","type":"quantitative","title":null,"scale":{"type":"log","domain":[53.8,8033],"nice":false},"axis":{"orient":"right","values":[67,87,115,150,200,260,340,440,600,800,1100,1500,2000,2600,3400,4400,6000],"labelExpr":"datum.value==2000?'':format(datum.value,'.2f')","grid":true,"gridColor":"#eceef2","domain":false,"ticks":false,"labelPadding":14,"labelFont":"Inter","labelFontSize":17.5,"labelColor":"#50535e","title":null}}}},
{"data":{"name":"candles"},"mark":{"type":"rule","strokeWidth":1.1},"encoding":{"y":{"field":"l","type":"quantitative","title":null,"scale":{"type":"log","domain":[53.8,8033],"nice":false},"axis":{"orient":"right","values":[67,87,115,150,200,260,340,440,600,800,1100,1500,2000,2600,3400,4400,6000],"labelExpr":"datum.value==2000?'':format(datum.value,'.2f')","grid":true,"gridColor":"#eceef2","domain":false,"ticks":false,"labelPadding":14,"labelFont":"Inter","labelFontSize":17.5,"labelColor":"#50535e","title":null}},"y2":{"field":"h"},"color":{"condition":{"test":"datum.c>=datum.o","value":"#4caf50"},"value":"#f4564a"}}},
{"data":{"name":"candles"},"mark":{"type":"rule","strokeWidth":2.2},"encoding":{"y":{"field":"o","type":"quantitative","title":null,"scale":{"type":"log","domain":[53.8,8033],"nice":false},"axis":{"orient":"right","values":[67,87,115,150,200,260,340,440,600,800,1100,1500,2000,2600,3400,4400,6000],"labelExpr":"datum.value==2000?'':format(datum.value,'.2f')","grid":true,"gridColor":"#eceef2","domain":false,"ticks":false,"labelPadding":14,"labelFont":"Inter","labelFontSize":17.5,"labelColor":"#50535e","title":null}},"y2":{"field":"c"},"color":{"condition":{"test":"datum.c>=datum.o","value":"#1b6b30"},"value":"#b8221c"}}},
{"data":{"name":"ma"},"mark":{"type":"line","color":"#e91e63","strokeWidth":5.5,"strokeCap":"butt","interpolate":"monotone"}},
{"data":{"values":[{"id":"a","d":"2020-03-12","p":89.4},{"id":"a","d":"2023-01-15","p":1710}]},"mark":{"type":"line","color":"#00e600","strokeWidth":5},"encoding":{"detail":{"field":"id"}}},
{"data":{"values":[{"id":"a","d":"2021-12-01","p":4786},{"id":"a","d":"2023-01-15","p":1820},{"id":"b","d":"2021-12-01","p":1404},{"id":"b","d":"2023-01-15","p":534}]},"mark":{"type":"line","color":"#f23645","strokeWidth":4.5},"encoding":{"detail":{"field":"id"}}},
{"data":{"values":[{"d":"2022-04-03","p":3582},{"d":"2023-01-15","p":1047}]},"mark":{"type":"line","color":"#f23645","strokeWidth":1.5}},
{"data":{"values":[{"d":"2021-12-01","p":2582},{"d":"2023-01-15","p":986}]},"mark":{"type":"line","color":"#f23645","strokeWidth":1.5,"strokeDash":[2,4]}},
{"data":{"values":[{"t":"38.20%(1048.46)","d":"2022-10-15","p":1048.46},{"t":"50.00%(653.55)","d":"2022-10-15","p":653.55},{"t":"61.80%(407.38)","d":"2022-10-15","p":407.38},{"t":"78.60%(207.85)","d":"2022-10-15","p":207.85}]},"mark":{"type":"text","color":"#ff9800","fontSize":18,"align":"center","baseline":"middle"},"encoding":{"text":{"field":"t"}}},
{"data":{"values":[{"d":"2021-05-13","p":4430},{"d":"2021-11-10","p":4886},{"d":"2021-12-02","p":4886}]},"mark":{"type":"point","shape":"M0,-33 L0,-3 M-16,-17 L0,-1 L16,-17","size":4,"filled":false,"color":"#f23645","strokeWidth":7,"opacity":1}},
{"data":{"values":[{"d":"2018-12-15","p":75.9},{"d":"2020-03-14","p":84}]},"mark":{"type":"point","shape":"M0,33 L0,3 M-15,17 L0,1 L15,17","size":4,"filled":false,"color":"#00e600","strokeWidth":6.5,"opacity":1}},
{"data":{"values":[{"d":"2019-05-12","p":3377}]},"mark":{"type":"point","shape":"M-72,-27 H-155 A27,27 0 0 0 -155,27 H-72 Q-60,42 -37,42 Q-18,42 -8,27 M8,27 Q18,42 37,42 Q60,42 72,27 H155 A27,27 0 0 0 155,-27 H72 Q60,-42 37,-42 Q18,-42 8,-27 M-8,-27 Q-18,-42 -37,-42 Q-60,-42 -72,-27 M-155,-24 H155 A24,24 0 0 1 155,24 H-155 A24,24 0 0 1 -155,-24 Z M-5,-80 C-22,-76 -36,-55 -37,-30 M-5,-80 L-5,-27 M-10,-70 C-22,-62 -30,-48 -30,-36 L-11,-48 Z M5,-80 C22,-76 36,-55 37,-30 M5,-80 L5,-27 M10,-70 C22,-62 30,-48 30,-36 L11,-48 Z M-5,80 C-22,76 -36,55 -37,30 M-5,80 L-5,27 M-10,70 C-22,62 -30,48 -30,36 L-11,48 Z M5,80 C22,76 36,55 37,30 M5,80 L5,27 M10,70 C22,62 30,48 30,36 L11,48 Z","size":4,"filled":false,"color":"#2f7a4d","strokeWidth":1.6,"opacity":1}},
{"data":{"values":[{"t":"CELTICGOLD","d":"2019-05-12","p":3377}]},"mark":{"type":"text","font":"Liberation Serif","fontSize":56,"color":"#1a5c2e","align":"center","baseline":"middle"},"encoding":{"text":{"field":"t"}}},
{"data":{"values":[{"t":"CelticGold published on TradingView.com, Sep 25, 2022 17:25 UTC+2","d":"2018-11-22","p":8800}]},"mark":{"type":"text","fontSize":17.2,"color":"#131722","align":"left","baseline":"middle"},"encoding":{"text":{"field":"t"}}},
{"data":{"values":[{"t":"Ethereum / U.S. Dollar, 1D, BITSTAMP","d":"2018-12-02","p":7050},{"t":"O","d":"2019-08-26","p":7050},{"t":"H","d":"2019-11-07","p":7050},{"t":"L","d":"2020-01-22","p":7050},{"t":"C","d":"2020-04-05","p":7050}]},"mark":{"type":"text","fontSize":17.2,"color":"#50535e","align":"left","baseline":"middle"},"encoding":{"text":{"field":"t"}}},
{"data":{"values":[{"t":"1318.50","d":"2019-09-07","p":7050},{"t":"1336.40","d":"2019-11-19","p":7050},{"t":"1298.20","d":"2020-02-01","p":7050},{"t":"1312.60","d":"2020-04-16","p":7050},{"t":"−4.60 (−0.35%)","d":"2020-06-18","p":7050}]},"mark":{"type":"text","fontSize":17.2,"color":"#cc1818","align":"left","baseline":"middle"},"encoding":{"text":{"field":"t"}}},
{"data":{"values":[{"d":"2018-11-22","d2":"2023-04-15","p":8033}]},"mark":{"type":"rule","color":"#e6e8ee","strokeWidth":1},"encoding":{"x2":{"field":"d2"}}},
{"data":{"values":[{"d":"2018-11-22","d2":"2023-04-15","p":53.8}]},"mark":{"type":"rule","color":"#e0e3eb","strokeWidth":1.5},"encoding":{"x2":{"field":"d2"}}},
{"data":{"values":[{"d":"2023-04-15","p":53.8,"p2":8033}]},"mark":{"type":"rule","color":"#e6e8ee","strokeWidth":1},"encoding":{"y2":{"field":"p2"}}},
{"data":{"values":[{"d":"2023-01-15","p":53.8,"p2":8033}]},"mark":{"type":"rule","color":"#6a6d78","strokeWidth":2},"encoding":{"y2":{"field":"p2"}}},
{"data":{"values":[{"d":"2023-01-15","d2":"2023-04-04","p":2144,"p2":1872}]},"mark":{"type":"rect","color":"#e91e63","cornerRadius":2},"encoding":{"x2":{"field":"d2"},"y2":{"field":"p2"}}},
{"data":{"values":[{"d":"2023-01-15","d2":"2023-04-09","p":1406,"p2":1095}]},"mark":{"type":"rect","color":"#5d606b","cornerRadius":2},"encoding":{"x2":{"field":"d2"},"y2":{"field":"p2"}}},
{"data":{"values":[{"t":"1997.74","d":"2023-01-28","p":1997.74},{"t":"1312.60","d":"2023-01-28","p":1312.6}]},"mark":{"type":"text","fontSize":17.5,"color":"#ffffff","align":"left","baseline":"middle"},"encoding":{"text":{"field":"t"}}},
{"data":{"values":[{"t":"08:34:25","d":"2023-01-28","p":1172}]},"mark":{"type":"text","fontSize":17,"color":"#d1d4dc","align":"left","baseline":"middle"},"encoding":{"text":{"field":"t"}}},
{"data":{"values":[{"t":"USD","d":"2023-01-27","p":7210}]},"mark":{"type":"text","fontSize":17,"color":"#50535e","align":"left","baseline":"middle"},"encoding":{"text":{"field":"t"}}}
]},
{"width":1784.5,"height":176,
"encoding":{"x":{"field":"d","type":"temporal","title":null,"scale":{"domain":["2018-11-22","2023-01-15"],"nice":false},"axis":{"values":["2019-01-01","2019-05-01","2019-09-01","2020-01-01","2020-05-01","2020-09-01","2021-01-01","2021-05-01","2021-09-01","2022-01-01","2022-05-01","2022-09-01","2023-01-01"],"labelExpr":"month(datum.value)==0?timeFormat(datum.value,'%Y'):timeFormat(datum.value,'%b')","labelFontWeight":{"condition":{"test":"month(datum.value)==0","value":"bold"},"value":"normal"},"labelFont":"Inter","labelFontSize":17.5,"labelColor":"#50535e","labelPadding":11,"labelOverlap":false,"labelFlush":false,"labelBound":false,"ticks":false,"domain":false,"grid":true,"gridColor":"#eceef2","title":null}},
"y":{"field":"v","type":"quantitative","title":null,"scale":{"domain":[-6.6,108.9],"nice":false,"zero":false},"axis":{"orient":"right","values":[0,40,80],"labelExpr":"datum.value==0?'':format(datum.value,'.2f')","grid":true,"gridColor":"#eceef2","domain":false,"ticks":false,"labelPadding":14,"labelFont":"Inter","labelFontSize":17.5,"labelColor":"#50535e","title":null}}},
"layer":[
{"data":{"values":[{"d":"2018-11-22","d2":"2022-12-31","v":80}]},"mark":{"type":"rule","color":"#f44336","strokeDash":[15,16],"strokeWidth":2.5},"encoding":{"x2":{"field":"d2"}}},
{"data":{"values":[{"d":"2018-11-22","d2":"2022-12-31","v":20}]},"mark":{"type":"rule","color":"#2e6b3f","strokeDash":[15,16],"strokeWidth":2.5},"encoding":{"x2":{"field":"d2"}}},
{"data":{"name":"stoch"},"mark":{"type":"line","color":"#4caf50","strokeWidth":5,"interpolate":"monotone"},"encoding":{"y":{"field":"k","type":"quantitative","title":null,"scale":{"domain":[-6.6,108.9],"nice":false,"zero":false},"axis":{"orient":"right","values":[0,40,80],"labelExpr":"datum.value==0?'':format(datum.value,'.2f')","grid":true,"gridColor":"#eceef2","domain":false,"ticks":false,"labelPadding":14,"labelFont":"Inter","labelFontSize":17.5,"labelColor":"#50535e","title":null}}}},
{"data":{"name":"stoch"},"mark":{"type":"line","color":"#f6685b","strokeWidth":5,"interpolate":"monotone"}},
{"data":{"values":[{"d":"2022-09-13","v":91.1}]},"mark":{"type":"point","size":707,"filled":true,"fill":"#9a9a9a","fillOpacity":0.2,"stroke":"#f00000","strokeWidth":2.5,"strokeOpacity":1}},
{"data":{"values":[{"d":"2022-09-24","v":15}]},"mark":{"type":"point","size":707,"filled":false,"stroke":"#4caf50","strokeWidth":2,"opacity":0.25}},
{"data":{"values":[{"d":"2023-01-15","d2":"2023-04-14","v":-7.5,"v2":-33}]},"mark":{"type":"rect","color":"#ffffff"},"encoding":{"x2":{"field":"d2"},"y2":{"field":"v2"}}},
{"data":{"values":[{"d":"2023-01-15","d2":"2023-03-17","v":25.6,"v2":9.4}]},"mark":{"type":"rect","color":"#4caf50","cornerRadius":2},"encoding":{"x2":{"field":"d2"},"y2":{"field":"v2"}}},
{"data":{"values":[{"d":"2023-01-15","d2":"2023-03-17","v":9.4,"v2":-6.6}]},"mark":{"type":"rect","color":"#f44336","cornerRadius":2},"encoding":{"x2":{"field":"d2"},"y2":{"field":"v2"}}},
{"data":{"values":[{"t":"17.63","d":"2023-01-28","v":17.3},{"t":"16.76","d":"2023-01-28","v":1.3}]},"mark":{"type":"text","fontSize":17.5,"color":"#ffffff","align":"left","baseline":"middle"},"encoding":{"text":{"field":"t"}}},
{"data":{"values":[{"d":"2018-11-22","d2":"2023-04-15","v":-6.6}]},"mark":{"type":"rule","color":"#50535e","strokeWidth":1.5},"encoding":{"x2":{"field":"d2"}}},
{"data":{"values":[{"d":"2023-01-15","v":108.9,"v2":-32.8}]},"mark":{"type":"rule","color":"#6a6d78","strokeWidth":2},"encoding":{"y2":{"field":"v2"}}},
{"data":{"values":[{"d":"2018-11-22","v":-6.6,"v2":-32.8},{"d":"2023-04-15","v":108.9,"v2":-32.8}]},"mark":{"type":"rule","color":"#e6e8ee","strokeWidth":1},"encoding":{"y2":{"field":"v2"}}},
{"data":{"values":[{"d":"2018-12-04","v":-49.8}]},"mark":{"type":"point","shape":"M-15,-8 H-2 V8 H-8 V-2 H-15 Z M0,-5 A3,3 0 1 1 6,-5 A3,3 0 1 1 0,-5 Z M8,-8 H15 L7,8 H-1 Z","size":4,"filled":true,"color":"#131722","opacity":1,"strokeWidth":0}},
{"data":{"values":[{"t":"TradingView","d":"2018-12-21","v":-49.8}]},"mark":{"type":"text","fontSize":18.7,"color":"#131722","align":"left","baseline":"middle"},"encoding":{"text":{"field":"t"}}}
]}
]}
